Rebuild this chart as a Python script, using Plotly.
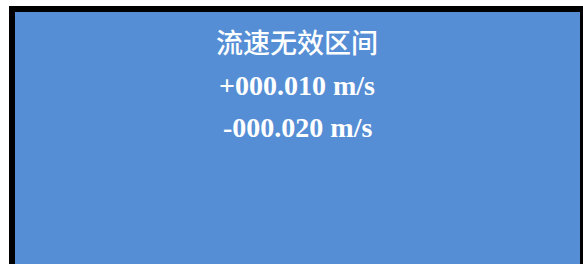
import plotly.graph_objects as go

W, H = 583, 264
title_text = "流速无效区间"
upper_limit = "+000.010 m/s"
lower_limit = "-000.020 m/s"
panel_color = "#558ED5"

def px(x):
    return x / W

def py(y):
    return 1 - y / H

fig = go.Figure()
fig.update_layout(
    width=W, height=H,
    margin=dict(l=0, r=0, t=0, b=0),
    paper_bgcolor="white", plot_bgcolor="white",
    xaxis=dict(visible=False, range=[0, 1]),
    yaxis=dict(visible=False, range=[0, 1]),
    showlegend=False,
)
fig.add_shape(type="rect", xref="paper", yref="paper",
              x0=px(9), x1=px(590), y0=py(6), y1=py(280),
              fillcolor="black", line=dict(width=0), layer="below")
fig.add_shape(type="rect", xref="paper", yref="paper",
              x0=px(15), x1=px(580), y0=py(12), y1=py(280),
              fillcolor=panel_color, line=dict(width=0), layer="below")

lines = [
    (title_text, 42, dict(family="Noto Sans CJK SC", size=27, color="white", weight=500)),
    (upper_limit, 85, dict(family="Liberation Serif", size=28, color="white", weight="bold")),
    (lower_limit, 127, dict(family="Liberation Serif", size=28, color="white", weight="bold")),
]
for txt, yc, font in lines:
    fig.add_annotation(text=txt, xref="paper", yref="paper",
                       x=px(297), y=py(yc), xanchor="center", yanchor="middle",
                       showarrow=False, font=font)

fig.write_html("out.html", config={"displayModeBar": False},
               post_script="document.body.style.margin='0';document.body.style.overflow='hidden';")
